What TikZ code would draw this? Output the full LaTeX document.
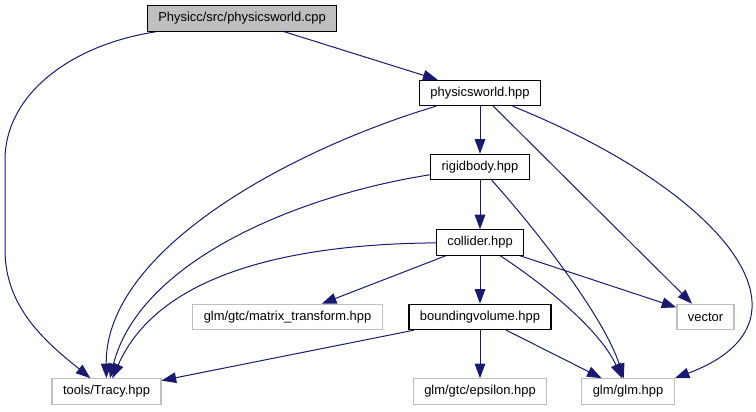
\documentclass[tikz,border=0pt]{standalone}
\usepackage{fontspec}
\setmainfont{Liberation Sans}
\usetikzlibrary{arrows.meta}
\definecolor{edgeblue}{HTML}{191970}
\definecolor{boxgray}{HTML}{BFBFBF}
\begin{document}
\begin{tikzpicture}[x=0.75pt,y=-0.75pt,line cap=round,
  every node/.style={font=\fontsize{9.7}{11.6}\selectfont,inner xsep=8.2pt,inner ysep=0pt,minimum height=19pt},
  file/.style={draw=black,line width=0.9pt},
  sysfile/.style={draw=boxgray,line width=0.9pt},
  dep/.style={draw=edgeblue,line width=0.75pt,-{Triangle[length=11pt,width=8pt]}}]
  \useasboundingbox (0,0) rectangle (756,411);
  % files of the project
  \node[file,fill=boxgray] (cpp) at (242,18.5) {Physicc/src/physicsworld.cpp};
  \node[file] (world) at (480,93) {physicsworld.hpp};
  \node[file] (body) at (480,167) {rigidbody.hpp};
  \node[file] (coll) at (480,242.5) {collider.hpp};
  \node[file] (bvol) at (480,317) {boundingvolume.hpp};
  % outside headers
  \node[sysfile] (mtrans) at (287.5,317) {glm/gtc/matrix\_transform.hpp};
  \node[sysfile] (vec) at (705.5,317) {vector};
  \node[sysfile] (tracy) at (106.5,391.5) {tools/Tracy.hpp};
  \node[sysfile] (eps) at (480,391.5) {glm/gtc/epsilon.hpp};
  \node[sysfile] (glm) at (628,391.5) {glm/glm.hpp};
  % includes
  \draw[dep] (cpp) -- (world);
  \draw[dep] (cpp) .. controls (70,45) and (5,95) .. (5,160) -- (5,250)
    .. controls (5,310) and (50,345) .. (tracy);
  \draw[dep] (world) -- (body);
  \draw[dep] (world) .. controls (290,150) and (105,250) .. (tracy);
  \draw[dep] (world) -- (vec);
  \draw[dep] (world) .. controls (720,190) and (830,320) .. (glm.north east);
  \draw[dep] (body) -- (coll);
  \draw[dep] (body) .. controls (300,195) and (140,260) .. (tracy);
  \draw[dep] (body) .. controls (545,240) and (605,320) .. (glm);
  \draw[dep] (coll) .. controls (300,244) and (160,270) .. (tracy);
  \draw[dep] (coll) -- (mtrans);
  \draw[dep] (coll) -- (bvol);
  \draw[dep] (coll) -- (vec);
  \draw[dep] (coll) .. controls (545,285) and (600,330) .. (glm);
  \draw[dep] (bvol) -- (tracy);
  \draw[dep] (bvol) -- (eps);
  \draw[dep] (bvol) -- (glm);
\end{tikzpicture}
\end{document}
